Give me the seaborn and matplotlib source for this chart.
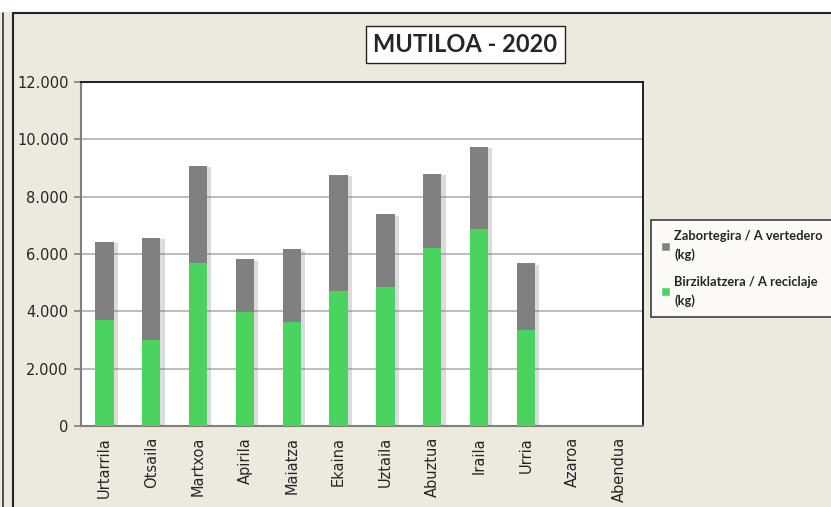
import numpy as np
import pandas as pd
import seaborn as sns
import matplotlib.pyplot as plt
import matplotlib.patheffects as pe
from matplotlib.patches import Patch, Rectangle
from matplotlib.lines import Line2D

months = ['Urtarrila', 'Otsaila', 'Martxoa', 'Apirila', 'Maiatza', 'Ekaina',
          'Uztaila', 'Abuztua', 'Iraila', 'Urria', 'Azaroa', 'Abendua']
# kg per month (Azaroa / Abendua not reported yet)
recycling = [3690, 3010, 5670, 3990, 3630, 4700, 4850, 6210, 6870, 3350, np.nan, np.nan]
landfill = [2730, 3550, 3400, 1820, 2530, 4070, 2540, 2580, 2870, 2320, np.nan, np.nan]

label_landfill = 'Zabortegira / A vertedero\n(kg)'
label_recycling = 'Birziklatzera / A reciclaje\n(kg)'
title = 'MUTILOA - 2020'

GREY = '#808080'
GREEN = '#4bd35f'
BEIGE = '#ece9df'

df = pd.DataFrame({'month': months, 'recycling': recycling, 'landfill': landfill})
df['total'] = df['recycling'] + df['landfill']

sns.set_style('white')
plt.rcParams['font.family'] = ['DejaVu Sans']

fig = plt.figure(figsize=(8.31, 5.07), dpi=100)
fig.patch.set_facecolor(BEIGE)

# white strip above the chart frame and frame lines
fig.patches.append(Rectangle((0, 1 - 12 / 507), 1, 12 / 507, transform=fig.transFigure,
                             facecolor='white', edgecolor='none', zorder=0))
fig.lines.append(Line2D([13 / 831, 1], [1 - 12.5 / 507, 1 - 12.5 / 507], transform=fig.transFigure,
                        color='#222222', lw=1.5))
fig.lines.append(Line2D([13 / 831, 13 / 831], [0, 1 - 12.5 / 507], transform=fig.transFigure,
                        color='#222222', lw=1.5))
fig.lines.append(Line2D([3 / 831, 3 / 831], [0, 1 - 12.5 / 507], transform=fig.transFigure,
                        color='#333333', lw=1.2))

ax = fig.add_axes([81 / 831, 1 - 426 / 507, 562 / 831, 344 / 507])
ax.set_facecolor('white')

sns.barplot(data=df, x='month', y='total', order=months, color=GREY, width=0.39,
            saturation=1, linewidth=0, ax=ax, zorder=3)
sns.barplot(data=df, x='month', y='recycling', order=months, color=GREEN, width=0.39,
            saturation=1, linewidth=0, ax=ax, zorder=4)

# soft shadow to the right of the stacked bars
shadow = [pe.SimplePatchShadow(offset=(3, -1), shadow_rgbFace='#777777', alpha=0.25), pe.Normal()]
for bar in ax.patches:
    if bar.get_facecolor()[1] < 0.6:
        bar.set_path_effects(shadow)

ax.set_xlim(-0.5, len(months) - 0.5)
ax.set_ylim(0, 12000)
ax.set_yticks(np.arange(0, 12001, 2000))
ax.set_yticklabels([f'{v:,}'.replace(',', '.') for v in range(0, 12001, 2000)], fontsize=10.5)
ax.set_xticks(range(len(months)))
ax.set_xticklabels(months, rotation=90, fontsize=10.5)
ax.set_xticks(np.arange(-0.5, len(months)), minor=True)
ax.tick_params(axis='x', which='major', length=0, pad=8)
ax.tick_params(axis='x', which='minor', length=5, color=GREY, width=1.2)
ax.tick_params(axis='y', length=5, color=GREY, width=1.2, pad=4, left=True)
ax.set_xlabel('')
ax.set_ylabel('')
ax.yaxis.grid(True, color='#b0b0b0', lw=1.2, zorder=1)
ax.set_axisbelow(True)

for side in ['top', 'right']:
    ax.spines[side].set_color('#111111')
    ax.spines[side].set_linewidth(1.3)
for side in ['left', 'bottom']:
    ax.spines[side].set_color(GREY)
    ax.spines[side].set_linewidth(1.5)

fig.text(465.5 / 831, 1 - 44.5 / 507, title, ha='center', va='center',
         fontsize=17, fontweight='bold', family='Lato',
         bbox=dict(boxstyle='square,pad=0.3', facecolor='white', edgecolor='#222222', lw=1))

handles = [Patch(facecolor=GREY, label=label_landfill),
           Patch(facecolor=GREEN, label=label_recycling)]
leg = fig.legend(handles=handles, loc='upper left', bbox_to_anchor=(651 / 831, 1 - 220 / 507),
                 frameon=True, fancybox=False, edgecolor='#111111', facecolor='white',
                 prop={'family': 'Lato', 'weight': 'bold', 'size': 9.3},
                 handlelength=0.7, handleheight=0.7, handletextpad=0.3,
                 labelspacing=1.1, borderpad=0.8, borderaxespad=0)
leg.get_frame().set_linewidth(1.2)
for t in leg.get_texts():
    t.set_linespacing(1.6)

fig.savefig('out.png', dpi=100, facecolor=fig.get_facecolor())
